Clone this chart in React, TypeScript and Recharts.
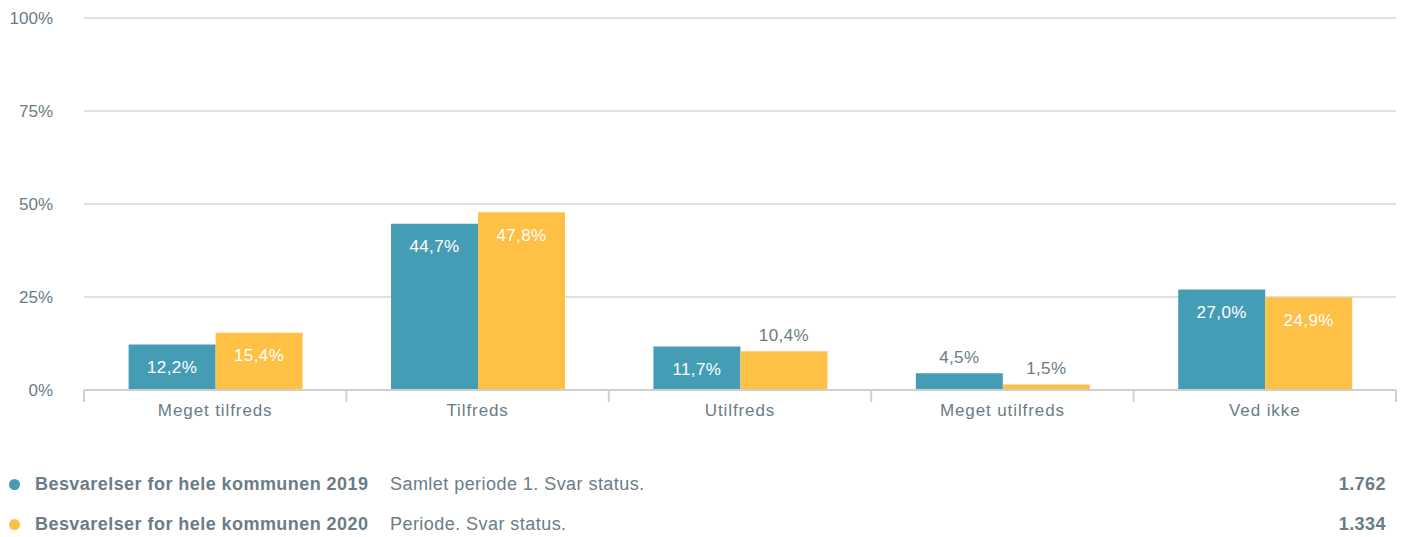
import { BarChart, Bar, XAxis, YAxis, CartesianGrid, LabelList } from 'recharts'

const categories = ['Meget tilfreds', 'Tilfreds', 'Utilfreds', 'Meget utilfreds', 'Ved ikke']
const values2019 = [12.2, 44.7, 11.7, 4.5, 27.0]
const values2020 = [15.4, 47.8, 10.4, 1.5, 24.9]
const yTicks = [0, 25, 50, 75, 100]

const seriesInfo = [
  { name: 'Besvarelser for hele kommunen 2019', note: 'Samlet periode 1. Svar status.', total: '1.762', color: '#459db5' },
  { name: 'Besvarelser for hele kommunen 2020', note: 'Periode. Svar status.', total: '1.334', color: '#ffc046' },
]

const data = categories.map((name, i) => ({ name, y2019: values2019[i], y2020: values2020[i] }))

const textColor = '#6b7c86'
const font = 'Liberation Sans, Arial, sans-serif'

const fmt = (v: number) => v.toFixed(1).replace('.', ',') + '%'

const BarLabel = (props: any) => {
  const { x, y, width, height, value } = props
  const inside = height > 40
  return (
    <text
      x={x + width / 2}
      y={inside ? y + 23 : y - 16}
      textAnchor="middle"
      dominantBaseline="central"
      fontSize={17}
      letterSpacing={0.4}
      fontFamily={font}
      fill={inside ? '#ffffff' : textColor}
    >
      {fmt(value)}
    </text>
  )
}

const CategoryTick = (props: any) => {
  const { x, y, payload, index } = props
  const off = payload.offset ?? 0
  return (
    <g>
      <line x1={x - off} x2={x - off} y1={y} y2={y + 12} stroke="#c8d3df" strokeWidth={2} />
      {index === categories.length - 1 && (
        <line x1={x + off} x2={x + off} y1={y} y2={y + 12} stroke="#c8d3df" strokeWidth={2} />
      )}
      <text x={x} y={y + 26} textAnchor="middle" fontSize={17} letterSpacing={0.9} fontFamily={font} fill={textColor}>
        {payload.value}
      </text>
    </g>
  )
}

export default function App() {
  return (
    <div style={{ position: 'absolute', left: 0, top: 0, width: 1404, height: 537, background: '#fff', fontFamily: font }}>
      <BarChart
        width={1404}
        height={430}
        data={data}
        margin={{ top: 18, right: 8, left: 0, bottom: 0 }}
        barCategoryGap="17%"
        barGap={0}
      >
        <CartesianGrid vertical={false} stroke="#d6d6d6" strokeWidth={1.5} />
        <XAxis
          dataKey="name"
          height={40}
          tickSize={0}
          tickMargin={0}
          axisLine={{ stroke: '#cfcfcf', strokeWidth: 2 }}
          tickLine={false}
          tick={<CategoryTick />}
          interval={0}
        />
        <YAxis
          width={84}
          domain={[0, 100]}
          ticks={yTicks}
          tickFormatter={(v: number) => `${v}%`}
          axisLine={false}
          tickLine={false}
          tickSize={0}
          tickMargin={31}
          tick={{ fill: textColor, fontSize: 17, fontFamily: font }}
        />
        <Bar dataKey="y2019" fill={seriesInfo[0].color} isAnimationActive={false}>
          <LabelList dataKey="y2019" content={<BarLabel />} />
        </Bar>
        <Bar dataKey="y2020" fill={seriesInfo[1].color} isAnimationActive={false}>
          <LabelList dataKey="y2020" content={<BarLabel />} />
        </Bar>
      </BarChart>
      {seriesInfo.map((s, i) => (
        <div
          key={s.name}
          style={{
            position: 'absolute',
            left: 0,
            top: 472 + i * 40,
            width: 1404,
            height: 24,
            display: 'flex',
            alignItems: 'center',
            fontSize: 18,
            letterSpacing: 0.45,
            color: textColor,
          }}
        >
          <span style={{ position: 'absolute', left: 9, width: 11, height: 11, borderRadius: '50%', background: s.color }} />
          <span style={{ position: 'absolute', left: 35, fontWeight: 'bold' }}>{s.name}</span>
          <span style={{ position: 'absolute', left: 390 }}>{s.note}</span>
          <span style={{ position: 'absolute', right: 18, fontWeight: 'bold' }}>{s.total}</span>
        </div>
      ))}
    </div>
  )
}
